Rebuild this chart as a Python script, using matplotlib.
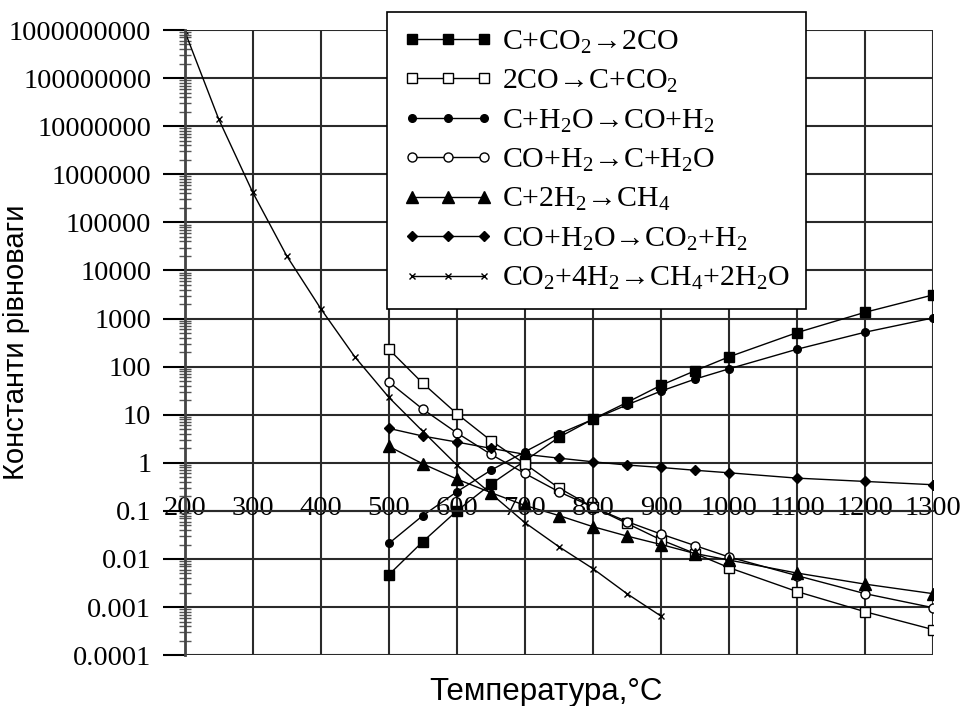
import math
import matplotlib
matplotlib.use('Agg')
import matplotlib.pyplot as plt
from matplotlib.ticker import LogLocator, FuncFormatter, NullFormatter, MultipleLocator

plt.rcParams['font.family'] = ['Liberation Serif', 'DejaVu Serif']
plt.rcParams['mathtext.fontset'] = 'custom'
plt.rcParams['mathtext.rm'] = 'Liberation Serif'
plt.rcParams['mathtext.it'] = 'Liberation Serif'

# temperatures, °C
temps = [500, 550, 600, 650, 700, 750, 800, 850, 900, 950, 1000, 1100, 1200, 1300]
temps_meth = [200, 250, 300, 350, 400, 450, 500, 550, 600, 650, 700, 750, 800, 850, 900]

# equilibrium constants
k_boudouard = [0.0047, 0.023, 0.1, 0.36, 1.1, 3.4, 8.1, 18, 41, 82, 160, 510, 1350, 3100]
k_boudouard_rev = [230, 45, 10.5, 2.9, 0.95, 0.3, 0.12, 0.055, 0.025, 0.013, 0.0066, 0.0021, 0.0008, 0.00034]
k_water_gas = [0.021, 0.08, 0.25, 0.7, 1.7, 4.0, 8.0, 16, 31, 55, 90, 230, 520, 1030]
k_water_gas_rev = [48, 13, 4.2, 1.5, 0.6, 0.25, 0.12, 0.06, 0.033, 0.019, 0.011, 0.0045, 0.0019, 0.00097]
k_hydrogasif = [2.2, 0.95, 0.46, 0.24, 0.13, 0.08, 0.047, 0.03, 0.02, 0.013, 0.0095, 0.0051, 0.003, 0.0019]
k_shift = [5.2, 3.6, 2.7, 2.0, 1.5, 1.25, 1.05, 0.9, 0.8, 0.7, 0.62, 0.48, 0.41, 0.35]
k_methanation = [9.5e8, 1.4e7, 4.2e5, 2.0e4, 1600, 160, 23, 4.5, 0.9, 0.23, 0.057, 0.018, 0.0063, 0.0019, 0.00065]

# y ticks: one per decade
y_ticks = [1e-4, 1e-3, 1e-2, 1e-1, 1, 10, 100, 1e3, 1e4, 1e5, 1e6, 1e7, 1e8, 1e9]

labels = [
    'C+CO$_2$→2CO',
    '2CO→C+CO$_2$',
    'C+H$_2$O→CO+H$_2$',
    'CO+H$_2$→C+H$_2$O',
    'C+2H$_2$→CH$_4$',
    'CO+H$_2$O→CO$_2$+H$_2$',
    'CO$_2$+4H$_2$→CH$_4$+2H$_2$O',
]

fig = plt.figure(figsize=(9.62, 7.06), dpi=100)
ax = fig.add_axes([0.192, 0.072, 0.778, 0.8855])

lw = 1.0
ax.plot(temps, k_boudouard, '-s', color='black', lw=lw, ms=7.5, label=labels[0])
ax.plot(temps, k_boudouard_rev, '-s', color='black', lw=lw, ms=7, mfc='white', mew=1, label=labels[1])
ax.plot(temps, k_water_gas, '-o', color='black', lw=lw, ms=5.5, label=labels[2])
ax.plot(temps, k_water_gas_rev, '-o', color='black', lw=lw, ms=6.5, mfc='white', mew=1, label=labels[3])
ax.plot(temps, k_hydrogasif, '-^', color='black', lw=lw, ms=8, label=labels[4])
ax.plot(temps, k_shift, '-D', color='black', lw=lw, ms=5, label=labels[5])
ax.plot(temps_meth, k_methanation, '-x', color='black', lw=lw, ms=5, mew=1, label=labels[6])

ax.set_yscale('log')
ax.set_xlim(200, 1300)
ax.set_ylim(1e-4, 1e9)

ax.xaxis.set_major_locator(MultipleLocator(100))
ax.set_yticks(y_ticks)
ax.yaxis.set_minor_locator(LogLocator(base=10, subs=range(2, 10), numticks=30))
ax.yaxis.set_minor_formatter(NullFormatter())


def ylab(v, pos):
    if v >= 1:
        return f'{v:.0f}'
    d = int(round(-math.log10(v)))
    return f'{v:.{d}f}'


ax.yaxis.set_major_formatter(FuncFormatter(ylab))

ax.grid(True, which='major', color='#2a2a2a', lw=1.5)
ax.set_axisbelow(True)

ax.spines['bottom'].set_position(('data', 0.1))
ax.spines['bottom'].set_linewidth(1.5)
ax.spines['bottom'].set_color('#2a2a2a')
ax.spines['top'].set_visible(False)
ax.spines['right'].set_visible(False)
ax.spines['left'].set_linewidth(2)
ax.spines['left'].set_color('#444444')

ax.tick_params(axis='x', length=0, pad=-11, labelsize=20.5)
ax.tick_params(axis='y', which='major', direction='out', length=16, width=1.5, pad=8, labelsize=20.5)
ax.tick_params(axis='y', which='minor', direction='inout', length=9, width=1, color='#555555')

ax.set_xlabel('Температура,°C', family='Liberation Sans', fontsize=22.5)
ax.set_ylabel('Константи рівноваги', family='Liberation Sans', fontsize=21)
ax.xaxis.set_label_coords(0.483, -0.035)
ax.yaxis.set_label_coords(-0.207, 0.5)

leg = ax.legend(loc='upper left', bbox_to_anchor=(0.402, 0.983), bbox_transform=fig.transFigure,
                borderaxespad=0, numpoints=3, handlelength=3.0, handletextpad=0.3,
                labelspacing=0.41, borderpad=0.55, fontsize=21.5, fancybox=False,
                framealpha=1, edgecolor='black')
leg.get_frame().set_linewidth(1.2)

fig.savefig('out.png', dpi=100)
